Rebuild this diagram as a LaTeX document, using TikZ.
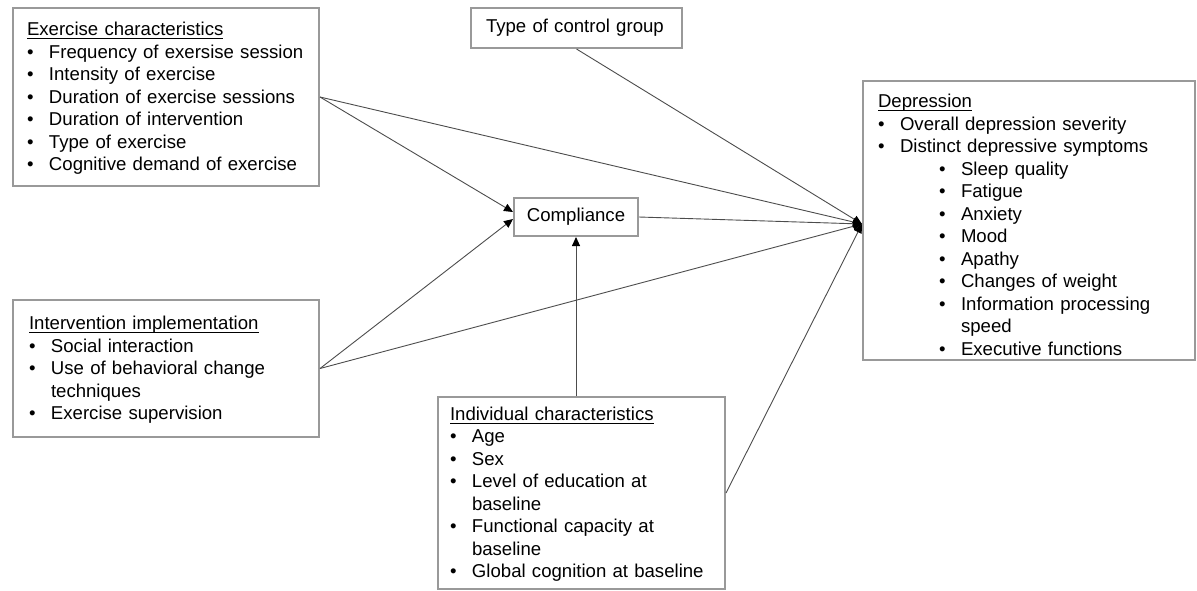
\documentclass[tikz,border=0pt]{standalone}
\usepackage{fontspec}
\setmainfont{Liberation Sans}
\usepackage{tikz}
\usetikzlibrary{arrows.meta}

\newcommand{\bul}{\makebox[11pt][l]{\textbullet}}
\newcommand{\sub}{\hspace*{30.5pt}\makebox[11pt][l]{\textbullet}}
\newcommand{\hd}[2][8pt]{\rule{0pt}{#1}\underline{\smash{#2}}}

\tikzset{
factor/.style={draw=black!40, line width=1pt, anchor=north west, align=left,
  inner xsep=7pt, inner ysep=0pt, font=\fontsize{9.3}{11.25}\selectfont},
link/.style={draw=black!70, line width=0.45pt},
arr/.style={link, -{Triangle[length=4.5pt,width=4pt,color=black]}}
}

\begin{document}
\begin{tikzpicture}[x=0.5pt,y=-0.5pt]
\useasboundingbox (0,0) rectangle (1197,590);

\node[factor, text width=139pt, minimum height=89pt] (ex) at (12,7) {\hd{Exercise characteristics}\\
\bul Frequency of exersise session\\
\bul Intensity of exercise\\
\bul Duration of exercise sessions\\
\bul Duration of intervention\\
\bul Type of exercise\\
\bul Cognitive demand of exercise};

\node[factor, text width=137pt, minimum height=68.5pt, inner xsep=8pt] (impl) at (12,299) {\hd{Intervention implementation}\\
\bul Social interaction\\
\bul Use of behavioral change\\
\hspace*{11pt}techniques\\
\bul Exercise supervision};

\node[factor, text width=90.5pt, minimum height=20pt, inner xsep=7.5pt] (ctrl) at (470,7) {Type of control group};

\node[factor, align=center, inner xsep=0pt, minimum width=62pt, minimum height=19pt] (comp) at (513,197) {Compliance};

\node[factor, text width=131.5pt, minimum height=96pt, inner xsep=6pt] (indiv) at (437,396) {\hd{Individual characteristics}\\
\bul Age\\
\bul Sex\\
\bul Level of education at\\
\hspace*{11pt}baseline\\
\bul Functional capacity at\\
\hspace*{11pt}baseline\\
\bul Global cognition at baseline};

\node[factor, text width=151pt, minimum height=139.5pt, inner xsep=7.5pt] (dep) at (862,80) {\hd[11pt]{Depression}\\
\bul Overall depression severity\\
\bul Distinct depressive symptoms\\
\sub Sleep quality\\
\sub Fatigue\\
\sub Anxiety\\
\sub Mood\\
\sub Apathy\\
\sub Changes of weight\\
\sub Information processing\\
\hspace*{41.5pt}speed\\
\sub Executive functions};

% arrow ends
\coordinate (hub) at (862,224);
\coordinate (cin1) at (513,212);
\coordinate (cin2) at (513,219);

\draw[arr] (ex.east) -- (cin1);
\draw[arr] (impl.east) -- (cin2);
\draw[arr] (comp.south |- indiv.north) -- (comp.south);

\draw[arr] (ex.east) -- (hub);
\draw[arr] (impl.east) -- (hub);
\draw[arr] (ctrl.south) -- (hub);
\draw[arr] (comp.east) -- (hub);
\draw[arr] (indiv.east) -- (hub);

\end{tikzpicture}
\end{document}
